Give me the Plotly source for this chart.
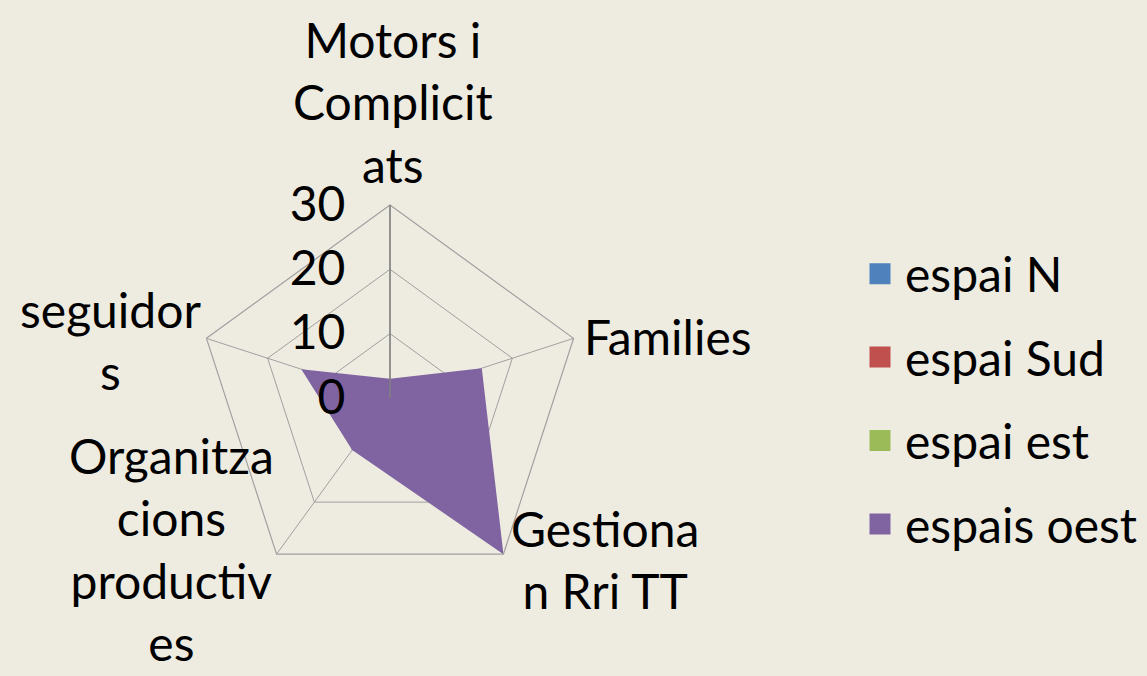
import plotly.graph_objects as go

categories = ["Motors i<br>Complicit<br>ats", "Families", "Gestiona<br>n Rri TT",
              "Organitza<br>cions<br>productiv<br>es", "seguidor<br>s"]
series_names = ["espai N", "espai Sud", "espai est", "espais oest"]
espai_N = [0, 0, 0, 0, 0]
espai_Sud = [0, 0, 0, 0, 0]
espai_est = [0, 0, 0, 0, 0]
espais_oest = [3, 15, 30, 10, 14.5]
radial_ticks = [0, 10, 20, 30]
colors = ["#4F81BD", "#C0504D", "#9BBB59", "#8064A2"]

BG = "#EEEBE1"
FONT = "Lato"
FS = 48
W, H = 1147, 676

fig = go.Figure()
for i, (name, vals) in enumerate(zip(series_names, [espai_N, espai_Sud, espai_est, espais_oest])):
    fig.add_trace(go.Scatterpolar(
        r=vals + [vals[0]], theta=categories + [categories[0]],
        name=name, fill="toself", mode="none",
        fillcolor=colors[i], showlegend=False, hoverinfo="skip",
    ))
# legend entries (square swatches)
for i, name in enumerate(series_names):
    fig.add_trace(go.Scatterpolar(
        r=[None], theta=[categories[0]], name=name, mode="markers",
        marker=dict(symbol="square", size=16, color=colors[i],
                    line=dict(color=colors[i], width=5)),
        legendgroup=name, showlegend=True,
    ))

# category labels placed around the radar (text taken from categories)
label_pos = [(393, 102), (668, 337), (605, 559), (172, 549), (110, 340)]
annotations = []
for cat, (px, py) in zip(categories, label_pos):
    annotations.append(dict(text=cat, x=px / W, y=1 - py / H, xref="paper", yref="paper",
                            xanchor="center", yanchor="middle", align="center",
                            showarrow=False, font=dict(size=FS, family=FONT, color="#000")))

fig.update_layout(
    width=W, height=H,
    paper_bgcolor=BG, plot_bgcolor=BG,
    margin=dict(l=0, r=0, t=0, b=0),
    font=dict(family=FONT, size=FS, color="#000000"),
    showlegend=True,
    legend=dict(x=855 / W, y=1 - 236 / H, xanchor="left", yanchor="top",
                font=dict(size=FS), tracegroupgap=18, itemwidth=40,
                bgcolor="rgba(0,0,0,0)"),
    annotations=annotations,
    polar=dict(
        bgcolor=BG,
        domain=dict(x=[197 / W, 583 / W], y=[85 / H, 471 / H]),
        gridshape="linear",
        angularaxis=dict(direction="clockwise", rotation=90,
                         linecolor="#A0A0A0", gridcolor="#A0A0A0", linewidth=1.2,
                         showline=True, ticks="", showticklabels=False),
        radialaxis=dict(range=[0, 30], tickvals=radial_ticks, angle=90,
                        side="counterclockwise", tickangle=90,
                        showline=True, linecolor="#808080", linewidth=1.5,
                        gridcolor="#A0A0A0", ticks="outside", ticklen=27,
                        tickcolor="rgba(0,0,0,0)", tickfont=dict(size=FS)),
    ),
)
fig.write_html("out.html", config={"displayModeBar": False},
               post_script="document.body.style.margin='0';document.body.style.background='%s';" % BG)
